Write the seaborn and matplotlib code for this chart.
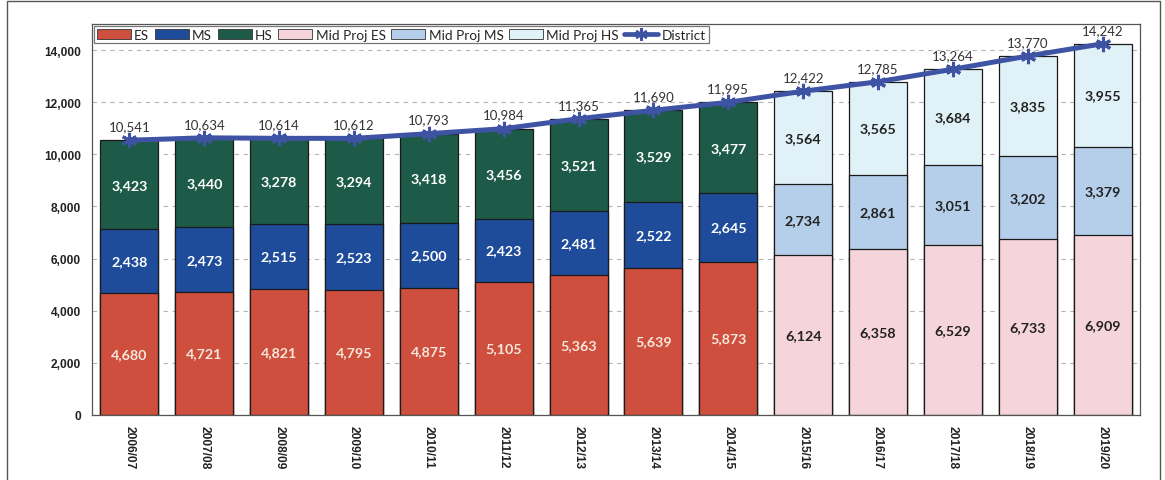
import numpy as np
import pandas as pd
import matplotlib
matplotlib.use("Agg")
import matplotlib.pyplot as plt
import seaborn as sns
from matplotlib.patches import Patch, Rectangle
from matplotlib.lines import Line2D
from matplotlib.ticker import FuncFormatter, FixedLocator

# Enrollment by school level, actual and mid-range projections
years = ["2006/07", "2007/08", "2008/09", "2009/10", "2010/11", "2011/12", "2012/13",
         "2013/14", "2014/15", "2015/16", "2016/17", "2017/18", "2018/19", "2019/20"]
es = [4680, 4721, 4821, 4795, 4875, 5105, 5363, 5639, 5873, 6124, 6358, 6529, 6733, 6909]
ms = [2438, 2473, 2515, 2523, 2500, 2423, 2481, 2522, 2645, 2734, 2861, 3051, 3202, 3379]
hs = [3423, 3440, 3278, 3294, 3418, 3456, 3521, 3529, 3477, 3564, 3565, 3684, 3835, 3955]
district = [10541, 10634, 10614, 10612, 10793, 10984, 11365, 11690, 11995,
            12422, 12785, 13264, 13770, 14242]
n_actual = 9  # first projected year is 2015/16

sns.set_style("white")
plt.rcParams["font.family"] = ["Lato", "DejaVu Sans"]

C_ES, C_MS, C_HS = "#CE4F3E", "#1F4C9A", "#1D5B48"
P_ES, P_MS, P_HS = "#F6D4DC", "#B5CEE9", "#E0F1F7"
C_LINE = "#3E53A4"

df = pd.DataFrame({"year": years, "ES": es, "MS": ms, "HS": hs})
df["es_top"] = df["ES"]
df["ms_top"] = df["ES"] + df["MS"]
df["hs_top"] = df["ES"] + df["MS"] + df["HS"]

fig = plt.figure(figsize=(11.65, 4.81), dpi=100)
ax = fig.add_axes([92 / 1165, 65 / 481, 1048 / 1165, 391 / 481])

# stacked bars: draw cumulative heights from the top segment down
layers = [("hs_top", C_HS, P_HS), ("ms_top", C_MS, P_MS), ("es_top", C_ES, P_ES)]
for col, c_act, c_proj in layers:
    pal = [c_act] * n_actual + [c_proj] * (len(years) - n_actual)
    sns.barplot(data=df, x="year", y=col, hue="year", palette=pal, legend=False,
                dodge=False, width=0.775, saturation=1, edgecolor="#1a1a1a",
                linewidth=0.9, ax=ax, zorder=2)

# segment value labels
for i in range(len(years)):
    proj = i >= n_actual
    segs = [(0, es[i], "#F7E6DA"), (es[i], ms[i], "white"), (es[i] + ms[i], hs[i], "white")]
    for bottom, val, col_act in segs:
        ax.text(i, bottom + val / 2, f"{val:,}", ha="center", va="center",
                fontsize=10.3, fontweight="bold",
                color="#222222" if proj else col_act, zorder=5)

# district total line
xs = np.arange(len(years))
sns.lineplot(x=xs, y=district, color=C_LINE, lw=3.6, marker=(6, 2, 0), markersize=11,
             markeredgewidth=2.2, markeredgecolor=C_LINE, ax=ax, zorder=4)
for i, d in enumerate(district):
    ax.text(i, d + 540, f"{d:,}", ha="center", va="center", fontsize=9.5,
            color="#333333", zorder=6)

# axes
ax.set_xlim(-0.5, len(years) - 0.5)
ax.set_ylim(0, 15000)
ax.set_xlabel("")
ax.set_ylabel("")
ax.yaxis.set_major_locator(FixedLocator(np.arange(0, 14001, 2000)))
ax.yaxis.set_major_formatter(FuncFormatter(lambda v, p: f"{v:,.0f}"))
ax.set_xticks(xs)
ax.set_xticklabels(years, rotation=270, fontsize=8.6, fontweight="bold",
                   family="Liberation Sans", color="#222222")
ax.set_xticks(np.arange(-0.5, len(years)), minor=True)
ax.tick_params(axis="x", which="major", length=0, pad=7)
ax.tick_params(axis="x", which="minor", length=4, width=0.8, color="#555555", direction="out")
ax.tick_params(axis="y", length=4, width=0.8, color="#555555", direction="out", pad=4)
for lab in ax.get_yticklabels():
    lab.set_fontfamily("Liberation Sans")
    lab.set_fontweight("bold")
    lab.set_fontsize(8.6)
    lab.set_color("#222222")
ax.yaxis.grid(True, linestyle=(0, (4, 4)), color="#b5b5b5", lw=0.8)
ax.set_axisbelow(True)
for s in ax.spines.values():
    s.set_color("#555555")
    s.set_linewidth(0.9)

# legend
handles = [Patch(facecolor=c, edgecolor="#333333", lw=0.6)
           for c in (C_ES, C_MS, C_HS, P_ES, P_MS, P_HS)]
handles.append(Line2D([], [], color=C_LINE, lw=3.4, marker=(6, 2, 0), markersize=9,
                      markeredgewidth=2, markeredgecolor=C_LINE))
labels = ["ES", "MS", "HS", "Mid Proj ES", "Mid Proj MS", "Mid Proj HS", "District"]
leg = ax.legend(handles, labels, loc="upper left", ncol=7, frameon=True, fancybox=False,
                edgecolor="#555555", fontsize=9.8, handlelength=2.5, handleheight=0.8,
                columnspacing=0.4, handletextpad=0.25, borderpad=0.2,
                borderaxespad=0.15)
leg.get_frame().set_linewidth(0.9)
leg.set_zorder(10)

# outer chart frame
fig.add_artist(Rectangle((7 / 1165, -0.01), (1160 - 7) / 1165, 1.0 - 2 / 481 + 0.01,
                         transform=fig.transFigure, fill=False, edgecolor="#555555",
                         lw=1.0))

fig.savefig("out.png", dpi=100)
